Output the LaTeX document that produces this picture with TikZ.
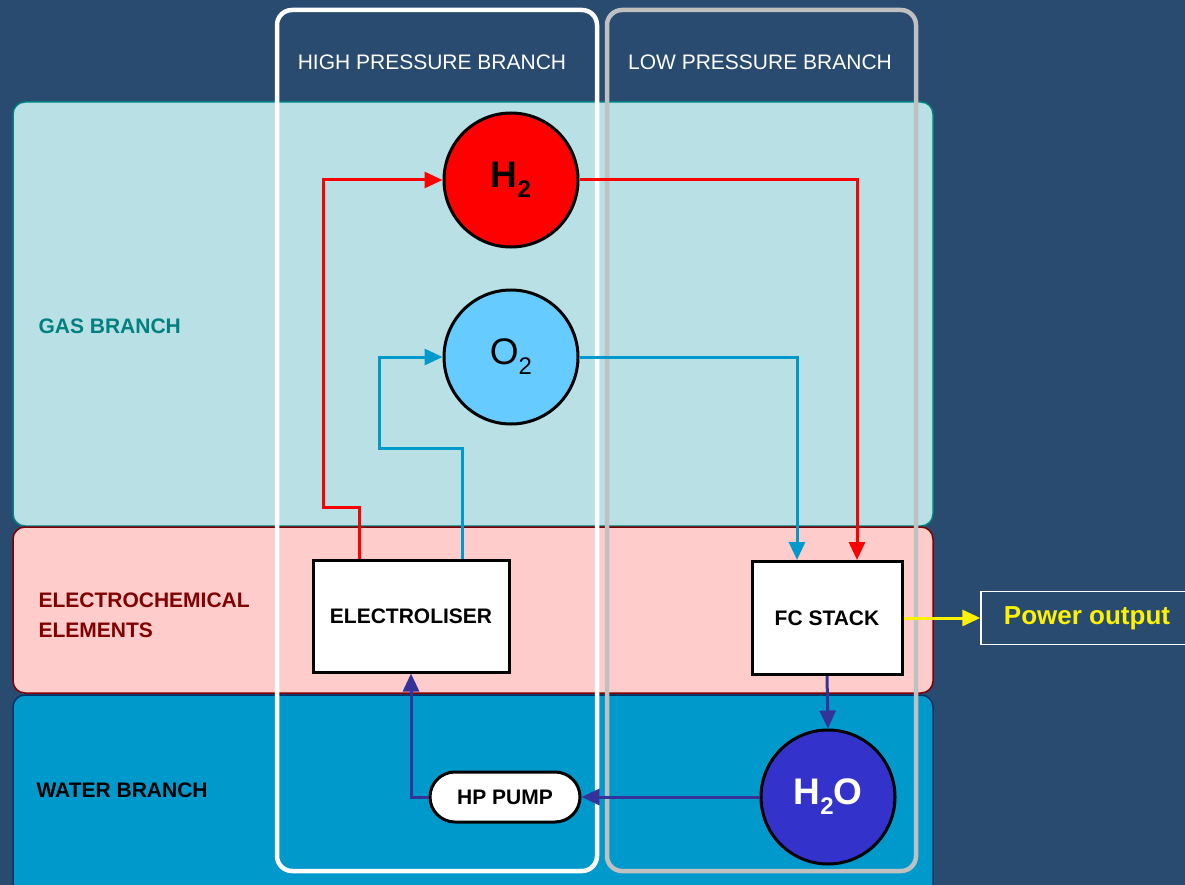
\documentclass[tikz,border=0pt]{standalone}
\usepackage{fontspec}
\setmainfont{Liberation Sans}
\usepackage{xcolor}
\usepackage{tikz}
\usetikzlibrary{arrows.meta,positioning}

\definecolor{bgnavy}{RGB}{42,75,112}
\definecolor{gasfill}{RGB}{185,224,228}
\definecolor{gasline}{RGB}{0,128,128}
\definecolor{echfill}{RGB}{255,204,204}
\definecolor{echline}{RGB}{128,0,0}
\definecolor{watfill}{RGB}{0,153,204}
\definecolor{watline}{RGB}{0,51,102}
\definecolor{oxyfill}{RGB}{102,204,255}
\definecolor{oxyline}{RGB}{0,153,204}
\definecolor{h2ofill}{RGB}{51,51,204}
\definecolor{h2oline}{RGB}{51,51,153}
\definecolor{hpgray}{RGB}{192,192,192}

\newcommand{\subtwo}[1]{\raisebox{-10pt}{\fontsize{24}{24}\selectfont #1}}

\begin{document}
\begin{tikzpicture}[
    x=1pt, y=-1pt,
    band/.style={rounded corners=12pt, line width=1.5pt},
    frame/.style={rounded corners=15pt, line width=4.5pt},
    head/.style={text=white, font=\fontsize{21}{25}\selectfont},
    side/.style={anchor=west, align=left, font=\bfseries\fontsize{21}{30}\selectfont},
    box/.style={rectangle, draw=black, fill=white, line width=3pt, align=center, font=\bfseries\fontsize{21}{25}\selectfont},
    gas/.style={circle, draw=black, line width=3pt, minimum size=134pt, inner sep=0pt, font=\fontsize{37}{40}\selectfont},
    arrow/.style={-{Triangle[length=18pt,width=16pt]}, line width=3pt}
]
\useasboundingbox (0,0) rectangle (1185,885);
\fill[bgnavy] (0,0) rectangle (1185,885);

% bands
\draw[band, fill=gasfill, draw=gasline] (13,102) rectangle (933,526);
\draw[band, fill=echfill, draw=echline] (13,527) rectangle (933,693);
\draw[band, fill=watfill, draw=watline] (13,695) rectangle (933,905);

% pressure branches
\draw[frame, draw=white] (277,10) rectangle (597,871);
\draw[frame, draw=hpgray] (607,10) rectangle (916,871);
\node[head] (hplabel) at (432,62) {HIGH PRESSURE BRANCH};
\node[head] (lplabel) at (760,62) {LOW PRESSURE BRANCH};

\node[side, text=gasline] (gaslabel) at (35,326) {GAS BRANCH};
\node[side, text=echline] (echlabel) at (35,615) {ELECTROCHEMICAL\\ELEMENTS};
\node[side, text=black] (watlabel) at (33,790) {WATER BRANCH};

% elements
\node[gas, fill=red] (h2) at (511,180) {\raisebox{-3pt}{\textbf{H\subtwo{2}}}};
\node[gas, fill=oxyfill] (o2) at (511,357) {O\subtwo{2}};
\node[box, minimum width=196pt, minimum height=112pt] (elec) at (411,616) {ELECTROLISER};
\node[box, minimum width=150pt, minimum height=113pt] (fc) at (827,618) {FC STACK};
\node[rectangle, draw=white, line width=1.5pt, minimum width=212pt, minimum height=53pt,
      text=yellow, font=\bfseries\fontsize{26}{30}\selectfont] (power) at (1087,618) {\raisebox{-3pt}{Power output}};
\node[gas, fill=h2ofill, text=white] (h2o) at (828,797) {\textbf{H\subtwo{2}O}};
\node[box, rounded corners=25pt, minimum width=150pt, minimum height=50pt] (pump) at (505,797) {HP PUMP};

% flows
\draw[arrow, red] ([xshift=-52pt]elec.north) |- (323,507) |- (h2.west);
\draw[arrow, red] (h2.east) -| ([xshift=30pt]fc.north);
\draw[arrow, oxyline] ([xshift=51pt]elec.north) |- (379,448) |- (o2.west);
\draw[arrow, oxyline] (o2.east) -| ([xshift=-30pt]fc.north);
\draw[arrow, yellow] (fc.east) -- (power.west);
\draw[arrow, h2oline] (fc.south) -- (h2o.north);
\draw[arrow, h2oline] (h2o.west) -- (pump.east);
\draw[arrow, h2oline] (pump.west) -| (elec.south);
\end{tikzpicture}
\end{document}
